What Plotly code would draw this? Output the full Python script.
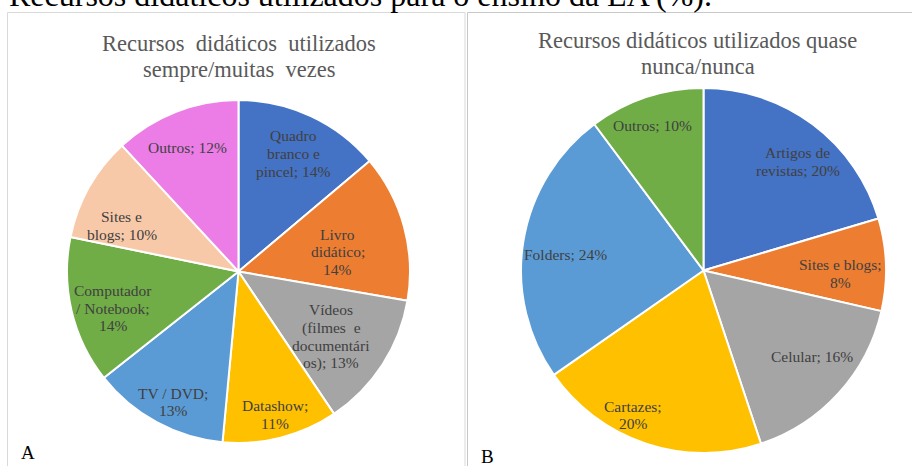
import math
import plotly.graph_objects as go

# --- Panel A: resources used always / often (%) ---
names_a = [
    "Quadro<br>branco e<br>pincel",
    "Livro<br>didático",
    "Vídeos<br>(filmes  e<br>documentári<br>os)",
    "Datashow",
    "TV / DVD",
    "Computador<br>/ Notebook",
    "Sites e<br>blogs",
    "Outros",
]
values_a = [14, 14, 13, 11, 13, 14, 10, 12]
value_on_new_line_a = [False, True, False, True, True, True, False, False]
colors_a = ["#4472C4", "#ED7D31", "#A5A5A5", "#FFC000",
            "#5B9BD5", "#70AD47", "#F8C9A8", "#EC7DE6"]
# label placement: distance from the centre (share of radius) and turn off the bisector (deg)
label_radius_a = [0.76, 0.59, 0.66, 0.86, 0.85, 0.76, 0.73, 0.78]
label_turn_a = [0, 4, 2, 0, -2, -3, -8, -1]

# --- Panel B: resources used almost never / never (%) ---
names_b = [
    "Artigos de<br>revistas",
    "Sites e blogs",
    "Celular",
    "Cartazes",
    "Folders",
    "Outros",
]
values_b = [20, 8, 16, 20, 24, 10]
value_on_new_line_b = [False, True, False, True, False, False]
colors_b = ["#4472C4", "#ED7D31", "#A5A5A5", "#FFC000", "#5B9BD5", "#70AD47"]
label_radius_b = [0.79, 0.75, 0.76, 0.88, 0.76, 0.84]
label_turn_b = [4, 3, -4, 7.5, -2.5, -1]

title_a = ["Recursos  didáticos  utilizados", "sempre/muitas  vezes"]
title_b = ["Recursos didáticos utilizados quase", "nunca/nunca"]
caption = "Recursos didáticos utilizados para o ensino da EA (%)."

W, H = 912, 466
SERIF = "Liberation Serif"
LABEL_COLOR = "#404040"
LABEL_SIZE = 15.5
LABEL_LINE = 17.7   # px between label lines
TITLE_SIZE = 22.5
TITLE_LINE = 26     # px between title lines


def px_x(v):
    return v / W


def px_y(v):
    # pixel distance from the top edge -> paper fraction
    return 1 - v / H


def slice_text(names, values, breaks):
    return [f"{n};{'<br>' if b else ' '}{v}%" for n, v, b in zip(names, values, breaks)]


def text_block(lines, x, y_mid, size, color, step):
    """One annotation per line so the line spacing can be set freely."""
    n = len(lines)
    out = []
    for i, line in enumerate(lines):
        yy = y_mid + (i - (n - 1) / 2) * step
        out.append(dict(text=line, x=px_x(x), y=px_y(yy), xanchor="center", yanchor="middle",
                        font=dict(family=SERIF, size=size, color=color)))
    return out


def pie(names, values, colors, cx, cy, r):
    return go.Pie(
        labels=[n.replace("<br>", " ") for n in names],
        values=values,
        textinfo="none",
        marker=dict(colors=colors, line=dict(color="white", width=2)),
        sort=False,
        direction="clockwise",
        rotation=0,
        showlegend=False,
        hoverinfo="label+value",
        domain=dict(x=[px_x(cx - r), px_x(cx + r)],
                    y=[px_y(cy + r), px_y(cy - r)]),
    )


def slice_labels(names, values, breaks, radii, turns, cx, cy, r):
    """Data labels placed near each slice's bisector (clockwise from 12 o'clock)."""
    total = sum(values)
    texts = slice_text(names, values, breaks)
    out, acc = [], 0.0
    for v, t, k, d in zip(values, texts, radii, turns):
        mid = 2 * math.pi * (acc + v / 2) / total + math.radians(d)
        acc += v
        x = cx + k * r * math.sin(mid)
        y = cy - k * r * math.cos(mid)
        out += text_block(t.split("<br>"), x, y, LABEL_SIZE, LABEL_COLOR, LABEL_LINE)
    return out


PIE_A = (238.5, 271.5, 171.5)
PIE_B = (703.5, 270.5, 182.5)

fig = go.Figure()
fig.add_trace(pie(names_a, values_a, colors_a, *PIE_A))
fig.add_trace(pie(names_b, values_b, colors_b, *PIE_B))

# panel frames (bottom edge runs past the page)
fig.add_shape(type="rect", xref="paper", yref="paper",
              x0=px_x(7.5), x1=px_x(465), y0=-0.2, y1=px_y(12.5),
              line=dict(color="#d9d9d9", width=1), fillcolor="rgba(0,0,0,0)", layer="below")
fig.add_shape(type="rect", xref="paper", yref="paper",
              x0=px_x(467.5), x1=1.2, y0=-0.2, y1=px_y(12.5),
              line=dict(color="#c8c8c8", width=1), fillcolor="rgba(0,0,0,0)", layer="below")

annotations = [
    dict(text=caption, x=px_x(7), y=px_y(15), xanchor="left", yanchor="bottom",
         font=dict(family=SERIF, size=32, color="black")),
    dict(text="A", x=px_x(19), y=px_y(452), xanchor="left", yanchor="middle",
         font=dict(family=SERIF, size=19, color="black")),
    dict(text="B", x=px_x(479), y=px_y(456), xanchor="left", yanchor="middle",
         font=dict(family=SERIF, size=19, color="black")),
]
annotations += text_block(title_a, 239, 56.5, TITLE_SIZE, "#595959", TITLE_LINE)
annotations += text_block(title_b, 697.5, 53.5, TITLE_SIZE, "#595959", TITLE_LINE)
annotations += slice_labels(names_a, values_a, value_on_new_line_a,
                            label_radius_a, label_turn_a, *PIE_A)
annotations += slice_labels(names_b, values_b, value_on_new_line_b,
                            label_radius_b, label_turn_b, *PIE_B)
for a in annotations:
    a.update(xref="paper", yref="paper", showarrow=False, align="center")

fig.update_layout(
    width=W, height=H,
    margin=dict(l=0, r=0, t=0, b=0),
    paper_bgcolor="white",
    plot_bgcolor="white",
    font=dict(family=SERIF),
    annotations=annotations,
)

fig.write_html("out.html")
